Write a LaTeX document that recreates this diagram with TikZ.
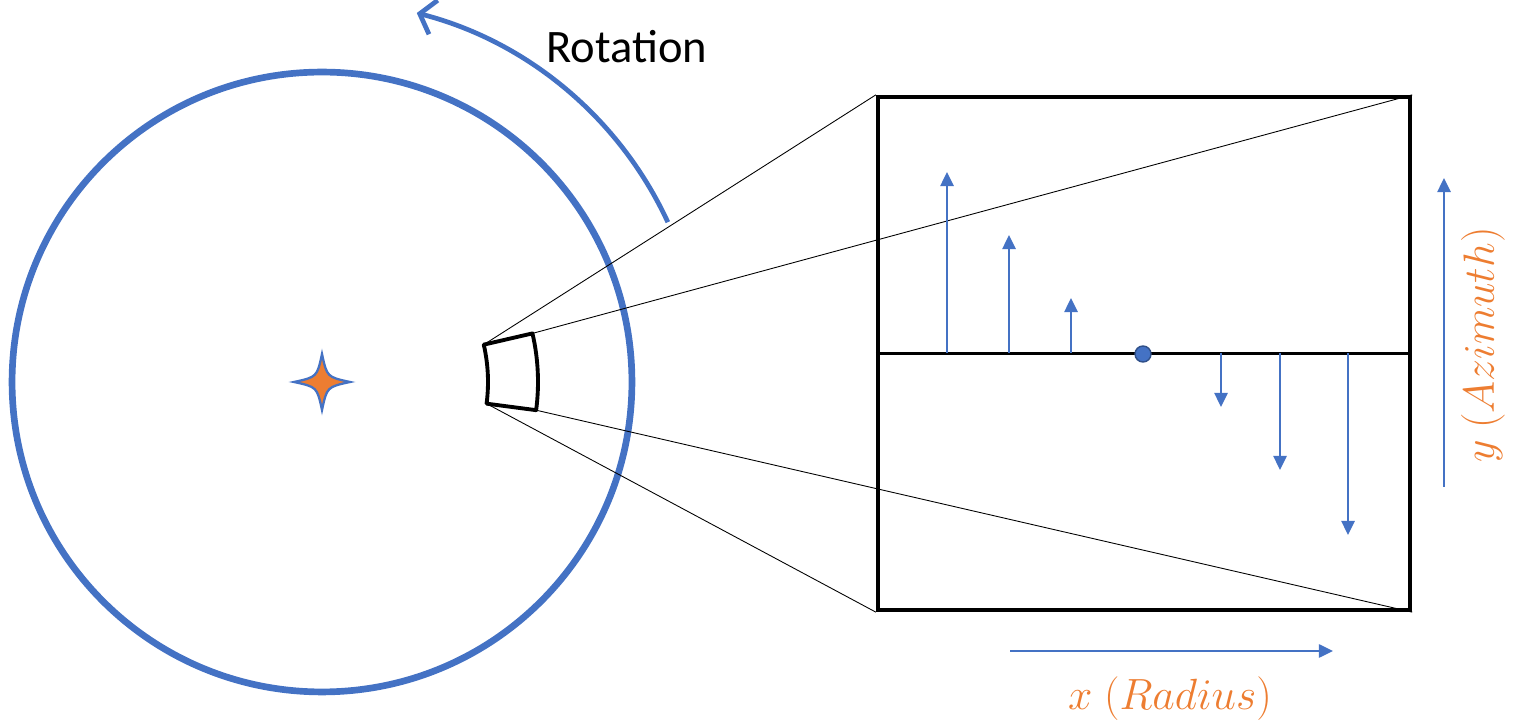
\documentclass[tikz,border=0pt]{standalone}
\usepackage{fontspec}
\setmainfont{Carlito}
\usetikzlibrary{arrows.meta}
\definecolor{wheelblue}{RGB}{68,114,196}
\definecolor{axisorange}{RGB}{237,125,49}

\begin{document}
\begin{tikzpicture}[x=0.02cm, y=0.02cm,
  vec/.style={wheelblue, line width=1.2pt, -{Triangle[length=8pt,width=7.5pt]}},
  zoom line/.style={black, line width=0.5pt},
  axis label/.style={text=axisorange, font=\fontsize{29}{34}\selectfont}]

    \useasboundingbox (0,0) rectangle (1514,723);

    % wheel and its centre
    \node[circle, draw=wheelblue, line width=3.8pt, minimum size=12.4cm, inner sep=0] (wheel) at (322,341) {};
    \draw[wheelblue, fill=axisorange, line width=1.3pt, shift={(322,341)}]
        (0,28) .. controls (5,5) .. (28,0) .. controls (5,-5) .. (0,-28)
        .. controls (-5,-5) .. (-28,0) .. controls (-5,5) .. (0,28) -- cycle;

    % small cell on the wheel
    \coordinate (s1) at ([shift={(13:166)}]322,341);
    \coordinate (s2) at ([shift={(13:216)}]322,341);
    \coordinate (s3) at ([shift={(-7.5:216)}]322,341);
    \coordinate (s4) at ([shift={(-7.5:166)}]322,341);
    \draw[line width=2.2pt, line join=round]
        (s1) -- (s2) arc[start angle=13, end angle=-7.5, radius=4.32cm]
        -- (s4) arc[start angle=-7.5, end angle=13, radius=3.32cm] -- cycle;

    % rotation arrow
    \coordinate (rotstart) at ([shift={(24.8:381)}]322,341);
    \draw[wheelblue, line width=2.7pt, -{Straight Barb[length=8pt,width=20pt]}]
        (rotstart) arc[start angle=24.8, end angle=75.6, radius=7.62cm];
    \node[font=\fontsize{26.5}{31}\selectfont] (rotlabel) at (627,676) {Rotation};

    % enlarged cell
    \node[draw, line width=2.5pt, minimum width=10.64cm, minimum height=10.26cm, inner sep=0] (zoom) at (1144,369.5) {};
    \draw[line width=1.2pt] (zoom.west) -- (zoom.east);

    \draw[zoom line] (s1) -- (zoom.north west);
    \draw[zoom line] (s2) -- (zoom.north east);
    \draw[zoom line] (s4) -- (zoom.south west);
    \draw[zoom line] (s3) -- (zoom.south east);

    % velocity vectors
    \foreach \x/\h [count=\i] in {947/181, 1009/118, 1071/55, 1221/-54, 1280/-117, 1348/-182} {
        \coordinate (b\i) at (\x,370);
        \coordinate (t\i) at (\x,370+\h);
        \draw[vec] (b\i) -- (t\i);
    }
    \node[circle, fill=wheelblue, draw=wheelblue!70!black, line width=0.8pt, minimum size=0.32cm, inner sep=0] (pivot) at (1143,369) {};

    % axes
    \coordinate (xa) at (1010,72);
    \coordinate (xb) at (1333,72);
    \draw[vec] (xa) -- (xb);
    \node[axis label] (xlabel) at (1170,24) {$x\ (Radius)$};

    \coordinate (ya) at (1444,236);
    \coordinate (yb) at (1444,545);
    \draw[vec] (ya) -- (yb);
    \node[axis label, rotate=90] (ylabel) at (1483,378) {$y\ (Azimuth)$};

\end{tikzpicture}
\end{document}
